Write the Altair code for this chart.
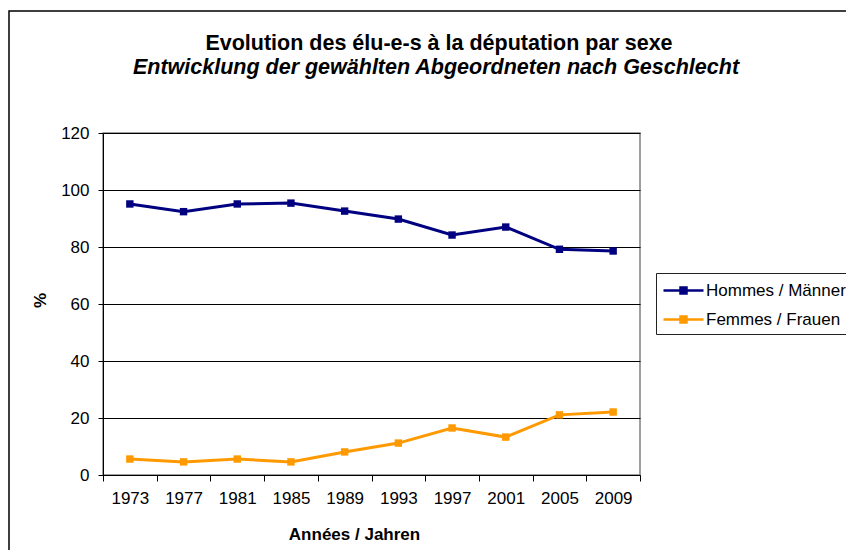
import altair as alt
import pandas as pd

years = ["1973", "1977", "1981", "1985", "1989", "1993", "1997", "2001", "2005", "2009"]
hommes = [95.1, 92.4, 95.1, 95.4, 92.6, 89.8, 84.2, 87.0, 79.2, 78.6]
femmes = [5.6, 4.6, 5.6, 4.6, 8.1, 11.2, 16.5, 13.3, 21.1, 22.1]
series = ["Hommes / Männer", "Femmes / Frauen"]
colors = ["#000080", "#FF9900"]
title_text = "Evolution des élu-e-s à la députation par sexe"
subtitle_text = "Entwicklung der gewählten Abgeordneten nach Geschlecht"

rows = []
for i, y in enumerate(years):
    rows.append({"year": y, "serie": series[0], "value": hommes[i], "order": 0})
    rows.append({"year": y, "serie": series[1], "value": femmes[i], "order": 1})
df = pd.DataFrame(rows)

FONT = "Liberation Sans"
W, H = 537, 342

color = alt.Color(
    "serie:N",
    scale=alt.Scale(domain=series, range=colors),
    legend=alt.Legend(
        title=None,
        orient="none",
        legendX=553,
        legendY=140,
        strokeColor="#222222",
        padding=6,
        symbolType="M-1,0L3,0M0.7,-0.3L1.3,-0.3L1.3,0.3L0.7,0.3Z",
        symbolSize=400,
        symbolStrokeWidth=2.5,
        labelFont=FONT,
        labelFontSize=17,
        labelColor="#000000",
        labelOffset=21,
        rowPadding=9,
        labelLimit=400,
    ),
)

x = alt.X(
    "year:O",
    sort=years,
    scale=alt.Scale(paddingInner=0, paddingOuter=0),
    axis=alt.Axis(
        title="Années / Jahren",
        tickBand="extent",
        labelAngle=0,
        tickSize=6,
        labelPadding=9,
        grid=False,
        titleFontWeight="bold",
        titleFontSize=17,
        titleX=251,
        titleY=64,
        titleBaseline="alphabetic",
        titleAlign="center",
    ),
)
y = alt.Y(
    "value:Q",
    scale=alt.Scale(domain=[0, 120], nice=False),
    axis=alt.Axis(
        title="%",
        values=[0, 20, 40, 60, 80, 100, 120],
        tickSize=5,
        labelPadding=9,
        grid=True,
        titleFontWeight="bold",
        titleFontSize=17,
        titleX=-63,
        titleY=167,
        titleAngle=-90,
        titleAlign="center",
        titleBaseline="middle",
    ),
)

base = alt.Chart(df)
lines = base.mark_line(strokeWidth=3).encode(x=x, y=y, color=color, detail="serie:N", order="order:Q")
points = base.mark_point(shape="square", filled=True, size=55, opacity=1).encode(x=x, y=y, color=color)

one = pd.DataFrame({"a": [0]})
border = alt.Chart(one).mark_rect(
    fill=None, stroke="#000000", strokeWidth=1.5, clip=False
).encode(
    x=alt.value(-94),
    x2=alt.value(800),
    y=alt.value(-122),
    y2=alt.value(500),
)
title = alt.Chart(one).mark_text(
    text=title_text, font=FONT, fontSize=21.5, fontWeight="bold", color="#000000",
    align="center", baseline="alphabetic", clip=False,
).encode(x=alt.value(336), y=alt.value(-83))
subtitle = alt.Chart(one).mark_text(
    text=subtitle_text, font=FONT, fontSize=21.5, fontWeight="bold", fontStyle="italic",
    color="#000000", align="center", baseline="alphabetic", clip=False,
).encode(x=alt.value(333), y=alt.value(-59))

chart = alt.layer(border, title, subtitle, lines, points).properties(
    width=W,
    height=H,
    autosize=alt.AutoSizeParams(type="none"),
    padding={"left": 95, "top": 125, "right": 206, "bottom": 75},
).configure_axis(
    labelFont=FONT,
    labelFontSize=17,
    labelColor="#000000",
    titleFont=FONT,
    titleColor="#000000",
    domainColor="#000000",
    tickColor="#000000",
    gridColor="#000000",
    gridWidth=1,
    domainWidth=1,
).configure_view(
    stroke="#808080",
    strokeWidth=1.5,
)

chart.save("out.html", embed_options={"renderer": "svg", "actions": False})
